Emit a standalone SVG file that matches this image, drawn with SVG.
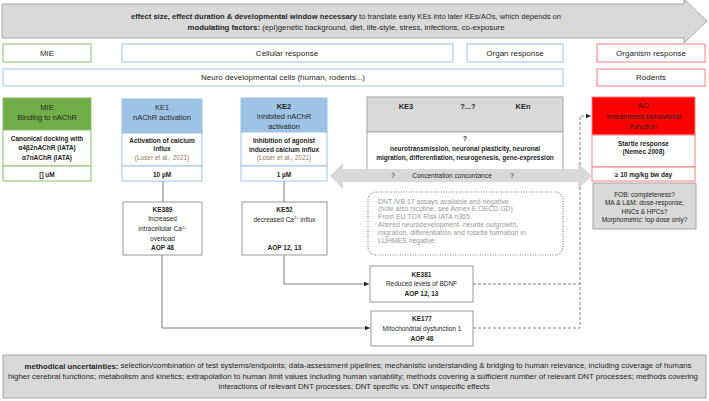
<svg xmlns="http://www.w3.org/2000/svg" width="709" height="401" viewBox="0 0 709 401">
<style>
text{font-family:"Liberation Sans",Arial,sans-serif;fill:#262626;text-anchor:middle;dominant-baseline:central}
.lb{font-size:8px}
.hd{font-size:7.5px}
.sm{font-size:6.5px}
.xs{font-size:6.9px}
.b{font-weight:bold}
.ref{fill:#8c7a68;font-weight:normal}
.grey{fill:#9a9a9a;text-anchor:start}
.gbox{fill:#d9d9d9;stroke:#a6a6a6;stroke-width:1}
.wbox{fill:#ffffff;stroke:#7f7f7f;stroke-width:0.8}
.green{stroke:#8cbf6a;stroke-width:1}
.blue{stroke:#9dc3e6;stroke-width:1}
.red{stroke:#ff7c80;stroke-width:1}
.conn{fill:none;stroke:#7f7f7f;stroke-width:1}
.dash{fill:none;stroke:#7f7f7f;stroke-width:1;stroke-dasharray:3,2}
</style>
<defs>
<marker id="ah" markerWidth="6" markerHeight="6" refX="5" refY="3" orient="auto" markerUnits="userSpaceOnUse">
<path d="M0,0.8 L5,3 L0,5.2 Z" fill="#262626"/>
</marker>
</defs>

<g id="banner">
<polygon class="gbox" points="2,4 684,4 684,-1 707,21 684,43 684,38 2,38"/>
<text class="hd" x="346" y="16" textLength="430" lengthAdjust="spacingAndGlyphs"><tspan class="b">effect size, effect duration &amp; developmental window necessary</tspan> to translate early KEs into later KEs/AOs, which depends on</text>
<text class="hd" x="346" y="27" textLength="317" lengthAdjust="spacingAndGlyphs"><tspan class="b">modulating factors:</tspan> (epi)genetic background, diet, life-style, stress, infections, co-exposure</text>
</g>

<g id="header-mie">
<rect x="3" y="44" width="88" height="18" fill="#fff" class="green"/>
<text class="lb" x="47" y="53">MIE</text>
</g>
<g id="header-cellular">
<rect x="122" y="44" width="331" height="18" fill="#fff" class="blue"/>
<text class="lb" x="287" y="53">Cellular response</text>
</g>
<g id="header-organ">
<rect x="467" y="44" width="96" height="18" fill="#fff" class="blue"/>
<text class="lb" x="515" y="53">Organ response</text>
</g>
<g id="header-organism">
<rect x="597" y="44" width="108" height="18" fill="#fff" class="red"/>
<text class="lb" x="651" y="53">Organism response</text>
</g>
<g id="header-neuro">
<rect x="3" y="69" width="560" height="17" fill="#fff" class="blue"/>
<text class="lb" x="283" y="77.5">Neuro developmental cells (human, rodents...)</text>
</g>
<g id="header-rodents">
<rect x="597" y="69" width="108" height="17" fill="#fff" class="red"/>
<text class="lb" x="651" y="77.5">Rodents</text>
</g>

<g id="connectors">
<line class="conn" x1="163" y1="181" x2="163" y2="202" stroke-width="1.5"/>
<line class="conn" x1="284" y1="181" x2="284" y2="202" stroke-width="1.5"/>
<polyline class="conn" points="284,255 284,284 369,284" marker-end="url(#ah)"/>
<polyline class="conn" points="162,255 162,328 370,328" marker-end="url(#ah)"/>
<polyline class="dash" points="473,284 580,284"/>
<polyline class="dash" points="473,328 580,328 580,116 591,116" marker-end="url(#ah)"/>
</g>

<g id="MIE">
<rect x="3" y="98" width="88" height="32" fill="#70ad47" class="green"/>
<rect x="3" y="130" width="88" height="36" fill="#fff" class="green"/>
<rect x="3" y="166" width="88" height="15" fill="#fff" class="green"/>
<text class="hd" x="47" y="107" fill="#1c2a14">MIE</text>
<text class="hd" x="47" y="117">Binding to nAChR</text>
<text class="sm b" x="47" y="138">Canonical docking with</text>
<text class="sm b" x="47" y="147">α4β2nAChR (IATA)</text>
<text class="sm b" x="47" y="157">α7nAChR (IATA)</text>
<text class="sm b" x="47" y="174">[] uM</text>
</g>

<g id="KE1">
<rect x="122" y="99" width="80" height="34" fill="#9dc3e6" class="blue"/>
<rect x="122" y="133" width="80" height="33" fill="#fff" class="blue"/>
<rect x="122" y="166" width="80" height="15" fill="#fff" class="blue"/>
<text class="hd" x="162" y="107">KE1</text>
<text class="hd" x="162" y="117">nAChR activation</text>
<text class="sm b" x="162" y="140">Activation of calcium</text>
<text class="sm b" x="162" y="148.5">influx</text>
<text class="sm ref" x="162" y="157.5">(Loser et al., 2021)</text>
<text class="sm b" x="162" y="174">10 µM</text>
</g>

<g id="KE2">
<rect x="241" y="98" width="86" height="34" fill="#9dc3e6" class="blue"/>
<rect x="241" y="132" width="86" height="34" fill="#fff" class="blue"/>
<rect x="241" y="166" width="86" height="15" fill="#fff" class="blue"/>
<text class="hd b" x="284" y="106">KE2</text>
<text class="hd" x="284" y="116">Inhibited nAChR</text>
<text class="hd" x="284" y="126">activation</text>
<text class="sm b" x="284" y="140">Inhibition of agonist</text>
<text class="sm b" x="284" y="149">induced calcium influx</text>
<text class="sm ref" x="284" y="157.5">(Loser et al., 2021)</text>
<text class="sm b" x="284" y="174">1 µM</text>
</g>

<g id="KE3-KEn">
<rect x="367" y="97" width="196" height="35" fill="#d9d9d9" stroke="#a6a6a6"/>
<rect x="367" y="132" width="196" height="38" fill="#fff" stroke="#a6a6a6"/>
<text class="hd b" x="406" y="106">KE3</text>
<text class="hd b" x="468" y="106">?...?</text>
<text class="hd b" x="523" y="106">KEn</text>
<text class="sm b" x="465" y="138">?</text>
<text class="sm b" x="465" y="148.5">neurotransmission, neuronal plasticity, neuronal</text>
<text class="sm b" x="465" y="157">migration, differentiation, neurogenesis, gene-expression</text>
</g>

<g id="concentration-concordance">
<polygon fill="#d9d9d9" points="330,176 343,163 343,169 578,169 578,163 592,176 578,189 578,182 343,182 343,189"/>
<text class="sm" x="393" y="175.5">?</text>
<text class="sm" x="452" y="175.5">Concentration concordance</text>
<text class="sm" x="512" y="175.5">?</text>
</g>

<g id="AO">
<rect x="592" y="97" width="103" height="38" fill="#ff0000" class="red"/>
<rect x="592" y="135" width="103" height="32" fill="#fff" class="red"/>
<rect x="592" y="167" width="103" height="14" fill="#fff" class="red"/>
<text class="hd" x="643.5" y="105" fill="#3a0a0a">AO</text>
<text class="hd" x="643.5" y="116" fill="#ffd6d6">Impairment behavioral</text>
<text class="hd" x="643.5" y="126" fill="#ffd6d6">function</text>
<text class="sm b" x="643.5" y="143">Startle response</text>
<text class="sm b" x="643.5" y="151.5">(Nemec 2008)</text>
<text class="sm b" x="643.5" y="174">≥ 10 mg/kg bw day</text>
</g>

<g id="AO-notes">
<rect class="gbox" x="593" y="183" width="103" height="46"/>
<text class="sm" x="644.5" y="194">FOB: completeness?</text>
<text class="sm" x="644.5" y="202.5">MA &amp; L&amp;M: dose-response,</text>
<text class="sm" x="644.5" y="211">HNCs &amp; HPCs?</text>
<text class="sm" x="644.5" y="219.5">Morphometric: top dose only?</text>
</g>

<g id="DNT-note">
<rect x="368" y="192" width="195" height="63" rx="8" fill="none" stroke="#7f7f7f" stroke-width="1.2" stroke-dasharray="1,1.5"/>
<text class="xs grey" x="378" y="201">DNT IVB 17 assays available and negative</text>
<text class="xs grey" x="378" y="208.5">(note also nicotine; see Annex  E  OECD GD)</text>
<text class="xs grey" x="378" y="216.5">From EU TOX Risk IATA n365:</text>
<text class="xs grey" x="378" y="224.5">Altered neurodevelopment  -neurite outgrowth,</text>
<text class="xs grey" x="378" y="232.5">migration, differentiation and rosette formation in</text>
<text class="xs grey" x="378" y="240.5">LUHMES  negative</text>
</g>

<g id="KE389">
<rect class="wbox" x="123" y="202" width="79" height="53"/>
<text class="sm b" x="162.5" y="209">KE389</text>
<text class="sm" x="162.5" y="218">Increased</text>
<text class="sm" x="162.5" y="228.5">intracellular Ca<tspan font-size="4" dy="-2">2+</tspan></text>
<text class="sm" x="162.5" y="238">overload</text>
<text class="sm b" x="162.5" y="247.5">AOP 48</text>
</g>

<g id="KE52">
<rect class="wbox" x="242" y="202" width="85" height="53"/>
<text class="sm b" x="284.5" y="209">KE52</text>
<text class="sm" x="284.5" y="219">decreased Ca<tspan font-size="4" dy="-2">2+</tspan><tspan dy="2"> influx</tspan></text>
<text class="sm b" x="284.5" y="247.5">AOP 12, 13</text>
</g>

<g id="KE381">
<rect class="wbox" x="370" y="266" width="103" height="36"/>
<text class="sm b" x="421.5" y="274">KE381</text>
<text class="sm" x="421.5" y="283.5">Reduced levels of BDNF</text>
<text class="sm b" x="421.5" y="293">AOP 12, 13</text>
</g>

<g id="KE177">
<rect class="wbox" x="371" y="311" width="102" height="35"/>
<text class="sm b" x="422" y="318.5">KE177</text>
<text class="sm" x="422" y="328">Mitochondrial dysfunction 1</text>
<text class="sm b" x="422" y="338">AOP 48</text>
</g>

<g id="methodical-uncertainties">
<rect class="gbox" x="3" y="355" width="703" height="43"/>
<text class="sm" x="358" y="365.5" textLength="667" lengthAdjust="spacingAndGlyphs"><tspan class="b">methodical uncertainties:</tspan> selection/combination of test systems/endpoints; data-assessment pipelines; mechanistic understanding &amp; bridging to human relevance,  including coverage of humans</text>
<text class="sm" x="353" y="376" textLength="690" lengthAdjust="spacingAndGlyphs">higher cerebral functions; metabolism and kinetics; extrapolation to human limit values including human variability; methods covering a sufficient number of relevant DNT processes; methods covering</text>
<text class="sm" x="354" y="386.5" textLength="271" lengthAdjust="spacingAndGlyphs">interactions of relevant DNT processes; DNT specific vs. DNT unspecific effects</text>
</g>
</svg>
